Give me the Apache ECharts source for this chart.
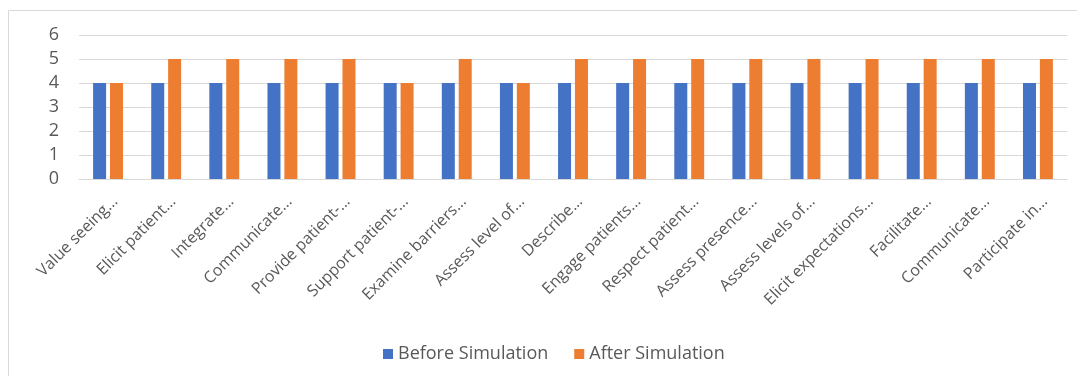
<!DOCTYPE html>
<html>
<head>
<meta charset="utf-8">
<script src="https://cdn.jsdelivr.net/npm/echarts@6/dist/echarts.min.js"></script>
<style>
  html, body { margin: 0; padding: 0; background: #fff; }
  #chart { width: 1077px; height: 376px; }
</style>
</head>
<body>
<div id="chart"></div>
<script>
const categories = [
  'Value seeing...', 'Elicit patient...', 'Integrate...', 'Communicate...',
  'Provide patient-...', 'Support patient-...', 'Examine barriers...', 'Assess level of...',
  'Describe...', 'Engage patients...', 'Respect patient...', 'Assess presence...',
  'Assess levels of...', 'Elicit expectations...', 'Facilitate...', 'Communicate...',
  'Participate in...'
];
const beforeSimulation = [4, 4, 4, 4, 4, 4, 4, 4, 4, 4, 4, 4, 4, 4, 4, 4, 4];
const afterSimulation  = [4, 5, 5, 5, 5, 4, 5, 4, 5, 5, 5, 5, 5, 5, 5, 5, 5];
const seriesNames = ['Before Simulation', 'After Simulation'];

const textColor = '#595959';
const fontFamily = '"Open Sans", "Noto Sans", sans-serif';

const chart = echarts.init(document.getElementById('chart'), null, { renderer: 'canvas' });
chart.setOption({
  animation: false,
  backgroundColor: '#ffffff',
  textStyle: { fontFamily: fontFamily },
  graphic: [{
    type: 'rect',
    silent: true,
    shape: { x: 8.5, y: 10.5, width: 1200, height: 500 },
    style: { fill: 'none', stroke: '#d9d9d9', lineWidth: 1 }
  }],
  grid: { left: 79, right: 10, top: 35, bottom: 197, containLabel: false },
  legend: {
    top: 340,
    left: 378,
    itemWidth: 10,
    itemHeight: 10,
    itemGap: 26,
    icon: 'rect',
    textStyle: { color: textColor, fontSize: 18, fontFamily: fontFamily },
    data: seriesNames
  },
  xAxis: {
    type: 'category',
    data: categories,
    axisLine: { lineStyle: { color: '#d9d9d9', width: 1 } },
    axisTick: { show: false },
    axisLabel: {
      interval: 0,
      rotate: 45,
      color: textColor,
      fontSize: 16,
      fontFamily: fontFamily,
      margin: 27,
      padding: [0, -10, 0, 0]
    }
  },
  yAxis: {
    type: 'value',
    min: 0,
    max: 6,
    interval: 1,
    axisLine: { show: false },
    axisTick: { show: false },
    axisLabel: { color: textColor, fontSize: 18, fontFamily: fontFamily, margin: 20 },
    splitLine: { lineStyle: { color: '#d9d9d9', width: 1 } }
  },
  series: [
    {
      name: seriesNames[0],
      type: 'bar',
      data: beforeSimulation,
      barWidth: 13,
      barGap: '30%',
      itemStyle: { color: '#4472C4' }
    },
    {
      name: seriesNames[1],
      type: 'bar',
      data: afterSimulation,
      barWidth: 13,
      barGap: '30%',
      itemStyle: { color: '#ED7D31' }
    }
  ]
});
</script>
</body>
</html>
